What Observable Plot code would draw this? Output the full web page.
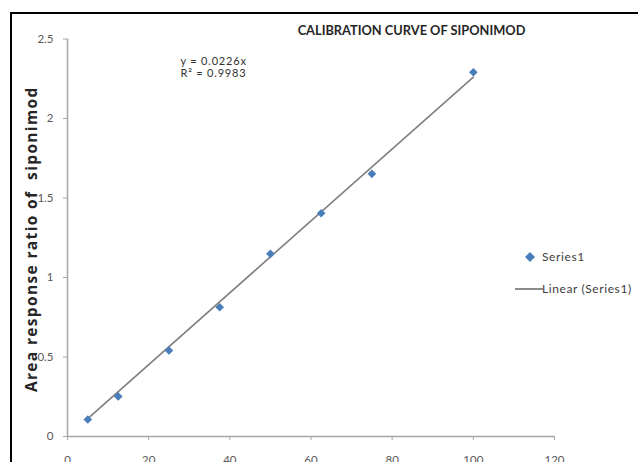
<!DOCTYPE html>
<html>
<head>
<meta charset="utf-8">
<script src="https://cdn.jsdelivr.net/npm/d3@7"></script>
<script src="https://cdn.jsdelivr.net/npm/@observablehq/plot@0.6"></script>
<style>
  html, body { margin: 0; padding: 0; background: #fff; }
  #wrap { position: relative; width: 638px; height: 462px; overflow: hidden; background: #fff; }
  #border { position: absolute; left: 10px; top: 12px; width: 700px; height: 520px;
            border-left: 2px solid #000; border-top: 2px solid #000; pointer-events: none; }
  #chart { position: absolute; left: 0; top: 0; }
  #legend { position: absolute; left: 510px; top: 248px; font-family: Lato, "Liberation Sans", sans-serif;
            font-size: 12px; letter-spacing: 0.6px; color: #404040; }
  .lg { position: absolute; white-space: nowrap; }
</style>
</head>
<body>
<div id="wrap">
  <div id="chart"></div>
  <div id="border"></div>
  <div id="legend"></div>
</div>
<script>
// ---- data ----
const concentrations = [5, 12.5, 25, 37.5, 50, 62.5, 75, 100];
const responseRatios = [0.107, 0.252, 0.541, 0.813, 1.149, 1.404, 1.652, 2.291];
const slope = 0.0226;
const rSquared = 0.9983;
const xTicks = [0, 20, 40, 60, 80, 100, 120];
const yTicks = [0, 0.5, 1, 1.5, 2, 2.5];
const titleText = "CALIBRATION CURVE OF SIPONIMOD";
const yLabelText = "Area response ratio of  siponimod";
const equationText = "y = " + slope + "x";
const r2Text = "R\u00B2 = " + rSquared;
const seriesName = "Series1";
const trendName = "Linear (Series1)";

// ---- derived tables ----
const points = concentrations.map((c, i) => ({x: c, y: responseRatios[i]}));
const xExtent = d3.extent(concentrations);
const trend = xExtent.map(x => ({x, y: slope * x}));

const labelFont = "Lato, 'Liberation Sans', sans-serif";

const chart = Plot.plot({
  width: 638,
  height: 462,
  marginLeft: 67,
  marginRight: 84,
  marginTop: 38.5,
  marginBottom: 26,
  x: {domain: [0, 120], axis: null},
  y: {domain: [0, 2.5], axis: null},
  style: {fontFamily: labelFont, fontSize: "11.5px", background: "transparent", overflow: "visible", color: "#595959"},
  marks: [
    Plot.axisY({ticks: yTicks, tickFormat: d => String(d), tickSize: 4, tickPadding: 10, stroke: "#a6a6a6", fill: "#595959", label: null, fontSize: 11.5}),
    Plot.axisX({ticks: xTicks, tickFormat: d => String(d), tickSize: 4, tickPadding: 15.5, stroke: "#a6a6a6", fill: "#595959", label: null, fontSize: 11.5}),
    Plot.ruleX([0], {stroke: "#a6a6a6", strokeWidth: 1.5}),
    Plot.ruleY([0], {stroke: "#a6a6a6", strokeWidth: 1.5}),
    Plot.line(trend, {x: "x", y: "y", stroke: "#7f7f7f", strokeWidth: 1.6}),
    Plot.dot(points, {x: "x", y: "y", symbol: "diamond2", r: 3.9, fill: "#4a7ebb", stroke: null}),
    Plot.text([equationText], {
      frameAnchor: "top-left", textAnchor: "start", dx: 113, dy: 18.5,
      fill: "#333", fontSize: 11
    }),
    Plot.text([r2Text], {
      frameAnchor: "top-left", textAnchor: "start", dx: 113, dy: 30.5,
      fill: "#333", fontSize: 11
    }),
    Plot.text([titleText], {
      frameAnchor: "top-left", textAnchor: "middle", dx: 344, dy: -13,
      fontWeight: "bold", fontSize: 12.8, fill: "#262626"
    }),
    Plot.text([yLabelText], {
      frameAnchor: "left", textAnchor: "middle", rotate: -90, dx: -35, dy: 1.5,
      fontFamily: "'Open Sans', Lato, sans-serif", fontWeight: "bold", fontSize: 15.5, fill: "#262626"
    })
  ]
});

chart.querySelectorAll("text").forEach(t => {
  const s = t.textContent;
  if (s === yLabelText) { t.style.whiteSpace = "pre"; t.style.letterSpacing = "1.35px"; }
  if (s === equationText || s === r2Text) t.style.letterSpacing = "0.8px";
});

document.getElementById("chart").appendChild(chart);

// legend
const legend = document.getElementById("legend");
legend.innerHTML =
  `<svg class="lg" style="left:14px;top:3px" width="12" height="12"><path d="M6 1 L11 6 L6 11 L1 6 Z" fill="#4a7ebb"/></svg>` +
  `<span class="lg" style="left:32px;top:1px">${seriesName}</span>` +
  `<svg class="lg" style="left:4px;top:39px" width="30" height="4"><line x1="1" y1="2" x2="29" y2="2" stroke="#7f7f7f" stroke-width="1.8"/></svg>` +
  `<span class="lg" style="left:32px;top:33px">${trendName}</span>`;
</script>
</body>
</html>
